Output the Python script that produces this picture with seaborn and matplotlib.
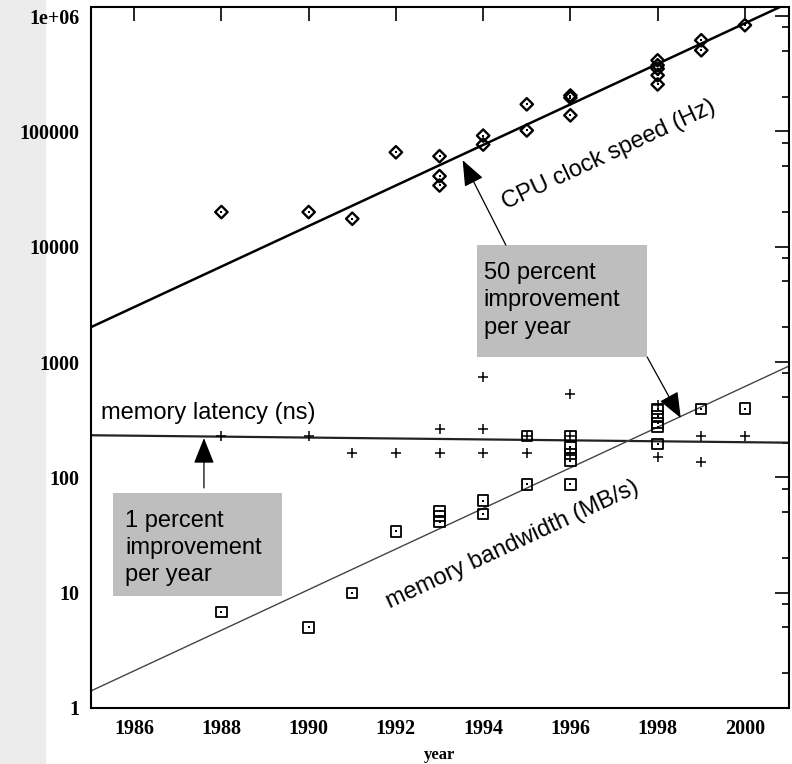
import matplotlib
matplotlib.use('Agg')
import matplotlib.pyplot as plt
from matplotlib.patches import Rectangle
import seaborn as sns

# CPU clock speed (diamonds)
cpu_years = [1988, 1990, 1991, 1992, 1993, 1993, 1993, 1994, 1994, 1995, 1995,
             1996, 1996, 1996, 1998, 1998, 1998, 1998, 1998, 1999, 1999, 2000]
cpu_speed = [20000, 20000, 17500, 66000, 61000, 41000, 34000, 92000, 77000, 172000, 102000,
             205000, 196000, 138000, 414000, 375000, 350000, 307000, 256000, 618000, 506000, 835000]

# memory latency (plus signs)
lat_years = [1988, 1990, 1991, 1992, 1993, 1993, 1994, 1994, 1994, 1995, 1995,
             1996, 1996, 1996, 1998, 1998, 1999, 1999, 2000]
lat_ns = [228, 228, 162, 162, 261, 162, 741, 261, 162, 228, 162,
          527, 228, 162, 424, 150, 228, 135, 228]

# memory bandwidth (squares)
bw_years = [1988, 1990, 1991, 1992, 1993, 1993, 1993, 1994, 1994, 1995, 1995,
            1996, 1996, 1996, 1996, 1996, 1998, 1998, 1998, 1998, 1998, 1999, 2000]
bw_mbs = [6.8, 5.0, 9.9, 34, 51, 46, 41, 63, 48, 87, 228,
          87, 228, 182, 160, 140, 390, 339, 297, 272, 194, 390, 395]

# trend lines, end points
fit_years = [1985, 2001]
cpu_fit = [2000, 1.3e6]
latency_fit = [232, 200]
bandwidth_fit = [1.4, 920]

year_ticks = [1986, 1988, 1990, 1992, 1994, 1996, 1998, 2000]
value_ticks = [1, 10, 100, 1000, 10000, 100000, 1000000]
value_labels = ['1', '10', '100', '1000', '10000', '100000', '1e+06']

sns.set_theme(style='white')
plt.rcParams['font.family'] = ['Liberation Sans', 'DejaVu Sans']
plt.rcParams['text.color'] = 'black'
plt.rcParams['axes.labelcolor'] = 'black'
plt.rcParams['xtick.color'] = 'black'
plt.rcParams['ytick.color'] = 'black'

fig = plt.figure(figsize=(7.92, 7.64), dpi=100)
# light grey strip on the left edge of the original screenshot
fig.patches.append(Rectangle((0, 0), 45 / 792, 1, transform=fig.transFigure,
                             color='#ececec', zorder=-10))
ax = fig.add_axes([0.1143, 0.0733, 0.8813, 0.9175])
ax.set_yscale('log')

# trend lines
sns.lineplot(x=fit_years, y=cpu_fit, color='black', lw=1.8, ax=ax)
sns.lineplot(x=fit_years, y=latency_fit, color='#222222', lw=1.6, ax=ax)
sns.lineplot(x=fit_years, y=bandwidth_fit, color='#444444', lw=1.0, ax=ax)

# data points
sns.scatterplot(x=cpu_years, y=cpu_speed, marker='D', s=40, facecolor='none',
                edgecolor='black', linewidth=1.7, ax=ax, zorder=3)
sns.scatterplot(x=cpu_years, y=cpu_speed, marker='s', s=2, color='black',
                linewidth=0, ax=ax, zorder=4)
sns.scatterplot(x=lat_years, y=lat_ns, marker='+', s=60, color='black',
                linewidth=1.1, ax=ax, zorder=3)
sns.scatterplot(x=bw_years, y=bw_mbs, marker='s', s=55, facecolor='none',
                edgecolor='black', linewidth=1.3, ax=ax, zorder=3)
sns.scatterplot(x=bw_years, y=bw_mbs, marker='s', s=2, color='black',
                linewidth=0, ax=ax, zorder=4)

# series labels
ax.text(1996.89, 62400, 'CPU clock speed (Hz)', fontsize=17, rotation=25,
        rotation_mode='anchor', ha='center', va='center')
ax.text(1985.25, 361, 'memory latency (ns)', fontsize=17, ha='left', va='center')
ax.text(1994.68, 25.9, 'memory bandwidth (MB/s)', fontsize=17, rotation=25,
        rotation_mode='anchor', ha='center', va='center')

# grey note boxes
ax.add_patch(Rectangle((1993.85, 1105), 3.91, 10350 - 1105,
                       facecolor='#bebebe', edgecolor='none', zorder=2))
ax.text(1994.01, 3450, '50 percent\nimprovement\nper year', fontsize=17,
        ha='left', va='center', linespacing=1.32, zorder=3)
ax.add_patch(Rectangle((1985.52, 9.36), 3.88, 73 - 9.36,
                       facecolor='#bebebe', edgecolor='none', zorder=2))
ax.text(1985.79, 24.4, '1 percent\nimprovement\nper year', fontsize=17,
        ha='left', va='center', linespacing=1.28, zorder=3)

arrow = dict(arrowstyle='-|>,head_length=0.8,head_width=0.32', color='black',
             lw=0.9, mutation_scale=20, shrinkA=0, shrinkB=0)
ax.annotate('', xy=(1993.53, 56400), xytext=(1994.52, 10350), arrowprops=arrow)
ax.annotate('', xy=(1998.53, 327), xytext=(1997.76, 1105), arrowprops=arrow)
ax.annotate('', xy=(1987.60, 219), xytext=(1987.60, 81), arrowprops=arrow)

# axes
ax.set_xlim(1985, 2001)
ax.set_ylim(1, 1.2e6)
ax.set_xticks(year_ticks)
ax.set_xticklabels([str(y) for y in year_ticks])
ax.set_yticks(value_ticks)
ax.set_yticklabels(value_labels)
ax.yaxis.set_minor_locator(matplotlib.ticker.LogLocator(base=10, subs=[2, 5, 8]))
ax.yaxis.set_minor_formatter(matplotlib.ticker.NullFormatter())
ax.xaxis.set_minor_locator(matplotlib.ticker.NullLocator())
ax.tick_params(which='both', direction='in', top=True, right=True, color='black')
ax.tick_params(which='major', length=10, width=1.2)
ax.tick_params(which='minor', length=5, width=1.2)
ax.tick_params(axis='y', pad=8)
ax.tick_params(axis='x', pad=8)
for lab in ax.get_xticklabels() + ax.get_yticklabels():
    lab.set_fontfamily('Liberation Serif')
    lab.set_fontweight('bold')
    lab.set_fontsize(14.5)
for sp in ax.spines.values():
    sp.set_color('black')
    sp.set_linewidth(1.5)

ax.set_xlabel('year', fontfamily='Liberation Serif', fontweight='bold',
              fontsize=12, labelpad=6)
ax.set_ylabel('')

fig.savefig('out.png', dpi=100)
